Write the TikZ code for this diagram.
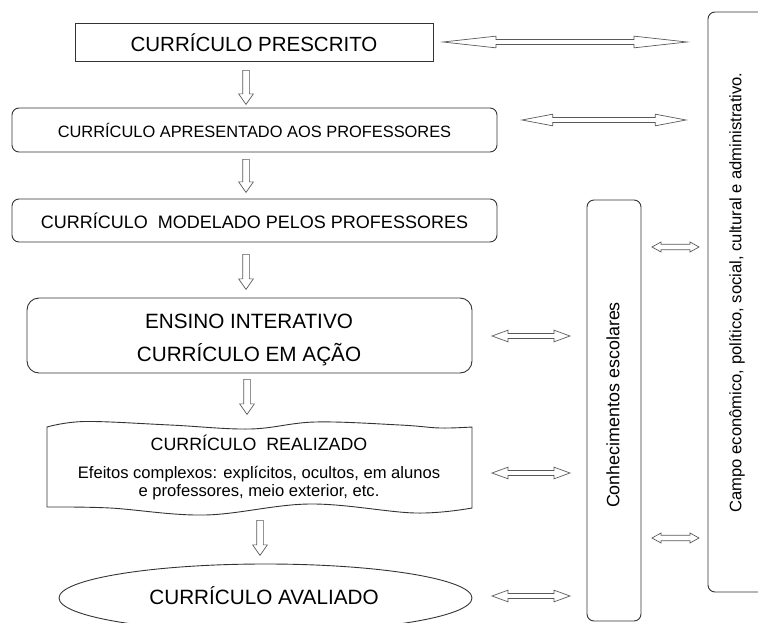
\documentclass[tikz,border=0pt]{standalone}
\usepackage{fontspec}
\setmainfont{Liberation Sans}
\usetikzlibrary{shapes.arrows,shapes.geometric}
\newcommand{\fs}[1]{\fontsize{#1}{#1}\selectfont}
\begin{document}
\begin{tikzpicture}[x=1pt,y=-1pt,
  line/.style={draw=black!80, line width=0.9pt},
  box/.style={line, rectangle, inner sep=0pt, align=center},
  rbox/.style={box, rounded corners=7pt},
  dnarrow/.style={single arrow, draw=black!65, line width=0.7pt, shape border rotate=270,
     inner sep=3pt, single arrow head extend=4pt, single arrow tip angle=70, minimum height=#1},
  harrow/.style={double arrow, draw=black!65, line width=0.7pt, inner sep=2.2pt,
     double arrow head extend=3.3pt, minimum height=#1},
  txt/.style={inner sep=0pt, align=center}
]
\useasboundingbox (0,0) rectangle (758,623);

% main boxes
\node[box, minimum width=358, minimum height=38, font=\fs{20.5}] (b1) at (254,42.5) {CURRÍCULO PRESCRITO};
\node[rbox, minimum width=485, minimum height=44, font=\fs{16.4}] (b2) at (254.5,130) {CURRÍCULO APRESENTADO AOS PROFESSORES};
\node[rbox, minimum width=485, minimum height=43, font=\fs{18}] (b3) at (254.5,220.5) {CURRÍCULO\ \ MODELADO PELOS PROFESSORES};
\node[rbox, rounded corners=12pt, minimum width=445, minimum height=75] (b4) at (249.5,335.5) {};
\node[txt, font=\fs{20.7}] (t4a) at (249,321) {ENSINO INTERATIVO};
\node[txt, font=\fs{20.7}] (t4b) at (249,355) {CURRÍCULO EM AÇÃO};

% wave box
\draw[line] plot[smooth, tension=0.6] coordinates {(47,427) (85,421.5) (170,425) (250,429) (315,422) (400,425) (440,428) (472,427)}
  -- plot[smooth, tension=0.6] coordinates {(472,508) (415,513) (310,504) (205,515) (110,508) (47,507)} -- cycle;
\node[txt, font=\fs{17.8}] (t5a) at (259,443) {CURRÍCULO\ \ REALIZADO};
\node[txt, font=\fs{16.6}] (t5b) at (259,474) {Efeitos complexos: explícitos, ocultos, em alunos};
\node[txt, font=\fs{16.6}] (t5c) at (259,492) {e professores, meio exterior, etc.};

% ellipse
\node[ellipse, line, minimum width=413, minimum height=68, inner sep=0pt] (b6) at (265.5,598) {};
\node[txt, font=\fs{20.7}] (t6) at (264,596) {CURRÍCULO AVALIADO};

% side boxes
\node[rbox, minimum width=54, minimum height=421] (cs) at (614,410.5) {};
\node[txt, rotate=90, font=\fs{17.9}] (tcs) at (613,405) {Conhecimentos escolares};
\node[rbox, minimum width=70, minimum height=580] (cp) at (743,302) {};
\node[txt, rotate=90, font=\fs{16.6}] (tcp) at (737,292.5) {Campo econômico, político, social, cultural e administrativo.};

% down arrows
\node[dnarrow=34pt] (d1) at (246,85) {};
\node[dnarrow=33pt] (d2) at (246,173.5) {};
\node[dnarrow=35pt] (d3) at (246,269.5) {};
\node[dnarrow=35pt] (d4) at (247,394.5) {};
\node[dnarrow=35pt] (d5) at (260,535.5) {};

% horizontal double arrows
\node[harrow=244pt, double arrow tip angle=12.6] (h1) at (565,42) {};
\node[harrow=164pt, double arrow tip angle=21.5] (h2) at (604,120) {};
\node[harrow=78pt, double arrow tip angle=40] (h3) at (531,336) {};
\node[harrow=78pt, double arrow tip angle=40] (h4) at (531,473) {};
\node[harrow=78pt, double arrow tip angle=40] (h5) at (531,596) {};
\node[harrow=47pt, double arrow tip angle=58, inner sep=2.4pt, double arrow head extend=2.2pt] (h6) at (675.5,247) {};
\node[harrow=47pt, double arrow tip angle=58, inner sep=2.4pt, double arrow head extend=2.2pt] (h7) at (675.5,538) {};
\end{tikzpicture}
\end{document}
